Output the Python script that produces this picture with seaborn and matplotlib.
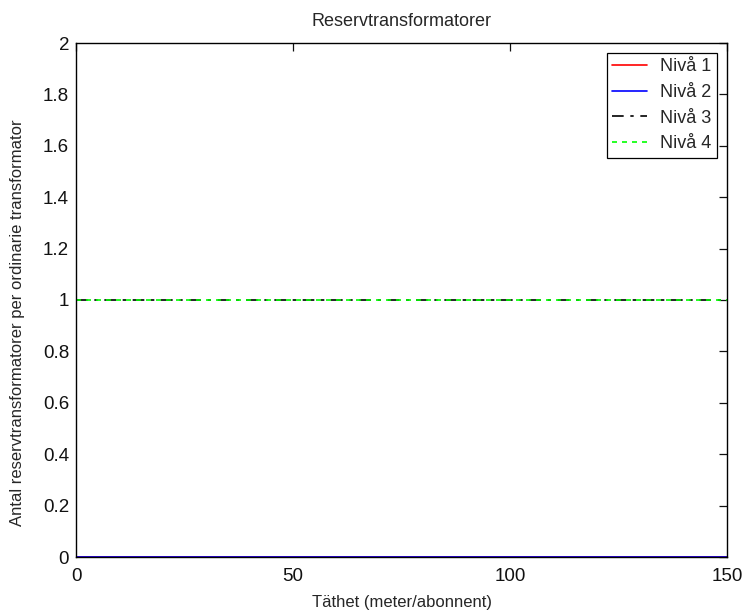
import matplotlib
matplotlib.use("Agg")
import matplotlib.pyplot as plt
import seaborn as sns
import pandas as pd

# Density axis (meter per subscriber) and number of spare transformers per level
density = [0, 25, 50, 75, 100, 125, 150]
niva1 = [0, 0, 0, 0, 0, 0, 0]
niva2 = [0, 0, 0, 0, 0, 0, 0]
niva3 = [1, 1, 1, 1, 1, 1, 1]
niva4 = [1, 1, 1, 1, 1, 1, 1]

series_names = ["Nivå 1", "Nivå 2", "Nivå 3", "Nivå 4"]
series_values = [niva1, niva2, niva3, niva4]
series_colors = ["#ff0000", "#0000ff", "#000000", "#00ff00"]
series_styles = ["-", "-", (0, (7, 4, 2, 4)), (0, (3, 3))]

x_ticks = [0, 50, 100, 150]
y_ticks = [0, 0.2, 0.4, 0.6, 0.8, 1, 1.2, 1.4, 1.6, 1.8, 2]

sns.set_theme(style="white")
plt.rcParams["font.family"] = ["Liberation Sans", "DejaVu Sans"]

fig = plt.figure(figsize=(7.44, 6.11), dpi=100)
ax = fig.add_axes([76 / 744, 1 - 557 / 611, (727 - 76) / 744, (557 - 43) / 611])

for name, vals, col, ls in zip(series_names, series_values, series_colors, series_styles):
    df = pd.DataFrame({"x": density, "y": vals})
    sns.lineplot(data=df, x="x", y="y", ax=ax, color=col, linestyle=ls,
                 linewidth=1.2, label=name)

ax.set_xlim(0, 150)
ax.set_ylim(0, 2)
ax.set_xticks(x_ticks)
ax.set_xticklabels([str(t) for t in x_ticks])
ax.set_yticks(y_ticks)
ax.set_yticklabels(["0", "0.2", "0.4", "0.6", "0.8", "1", "1.2", "1.4", "1.6", "1.8", "2"])
ax.tick_params(direction="in", length=6, width=0.9, top=True, right=True,
               labelsize=13.5, colors="#111111")
ax.tick_params(axis="x", pad=8)
ax.tick_params(axis="y", pad=5)
for sp in ax.spines.values():
    sp.set_color("black")
    sp.set_linewidth(1.0)

ax.set_title("Reservtransformatorer", fontsize=13, pad=12)
ax.set_xlabel("Täthet (meter/abonnent)", fontsize=12, labelpad=7)
ax.set_ylabel("Antal reservtransformatorer per ordinarie transformator", fontsize=12)
ax.yaxis.set_label_coords(-0.078, 0.455)

leg = ax.legend(loc="upper right", bbox_to_anchor=(1 - 10 / 651, 1 - 10 / 514),
                fontsize=13, frameon=True, fancybox=False, framealpha=1,
                edgecolor="black", handlelength=1.9, borderpad=0.3,
                labelspacing=0.48, handletextpad=0.75, borderaxespad=0)
leg.get_frame().set_linewidth(0.9)

fig.savefig("out.png", dpi=100, facecolor="white")
